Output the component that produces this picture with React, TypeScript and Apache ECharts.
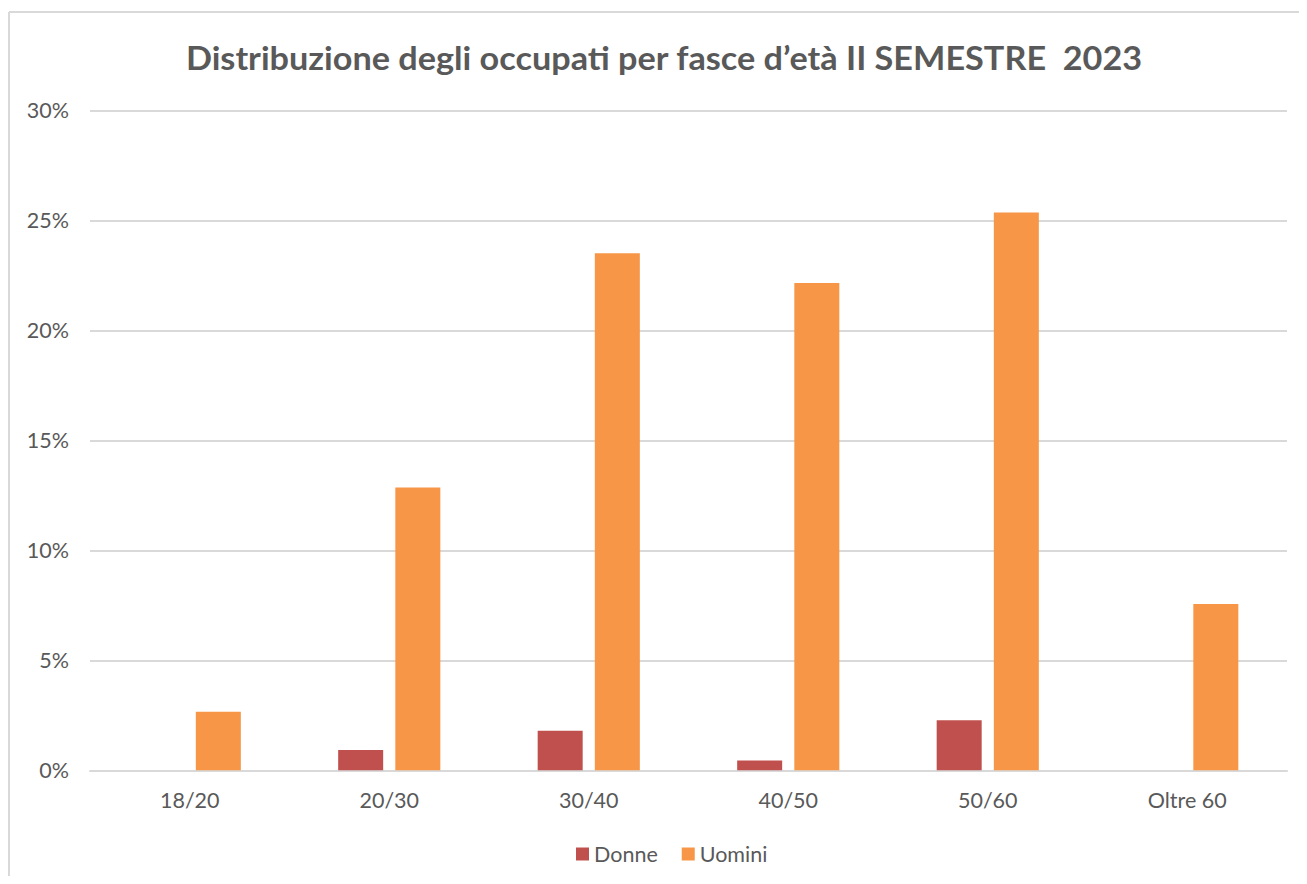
import React, { useEffect, useRef } from "react";
import * as echarts from "echarts";

const titleText = "Distribuzione degli occupati per fasce d’età II SEMESTRE  2023";
const categories = ["18/20", "20/30", "30/40", "40/50", "50/60", "Oltre 60"];
const donne = [0, 0.92, 1.8, 0.45, 2.27, 0];
const uomini = [2.66, 12.86, 23.5, 22.15, 25.35, 7.56];
const seriesNames = ["Donne", "Uomini"];
const yTicks = [0, 5, 10, 15, 20, 25, 30];

const FONT = "Lato, 'Open Sans', sans-serif";
const TXT = "#595959";

export default function App() {
  const ref = useRef<HTMLDivElement>(null);
  useEffect(() => {
    if (!ref.current) return;
    const chart = echarts.init(ref.current, undefined, { renderer: "svg" });
    chart.setOption({
      animation: false,
      textStyle: { fontFamily: FONT },
      graphic: [
        {
          type: "line",
          shape: { x1: 1, y1: 4, x2: 1291, y2: 4 },
          style: { stroke: "#d9d9d9", lineWidth: 2 },
        },
        {
          type: "line",
          shape: { x1: 1, y1: 4, x2: 1, y2: 868 },
          style: { stroke: "#d9d9d9", lineWidth: 2 },
        },
        {
          type: "text",
          x: 656,
          y: 49,
          scaleX: 1.07,
          style: {
            text: titleText,
            fontFamily: FONT,
            fontWeight: "bold",
            fontSize: 32,
            fill: TXT,
            textAlign: "center",
            textVerticalAlign: "middle",
          },
        },
      ],
      legend: {
        data: seriesNames,
        bottom: 6,
        left: 563,
        itemWidth: 13,
        itemHeight: 13,
        itemGap: 24,
        icon: "rect",
        textStyle: { color: TXT, fontSize: 21.5, fontFamily: FONT },
      },
      grid: { left: 82, right: 12, top: 102.3, bottom: 105.7, containLabel: false },
      xAxis: {
        type: "category",
        data: categories,
        axisLine: { lineStyle: { color: "#d9d9d9", width: 2 } },
        axisTick: { show: false },
        axisLabel: { color: TXT, fontSize: 21.5, margin: 19, fontFamily: FONT },
      },
      yAxis: {
        type: "value",
        min: yTicks[0],
        max: yTicks[yTicks.length - 1],
        interval: 5,
        axisLine: { show: false },
        axisTick: { show: false },
        splitLine: { lineStyle: { color: "#d9d9d9", width: 2 } },
        axisLabel: {
          color: TXT,
          fontSize: 21.5,
          margin: 21,
          fontFamily: FONT,
          formatter: (v: number) => v + "%",
        },
      },
      series: [
        {
          name: seriesNames[0],
          type: "bar",
          data: donne,
          barWidth: 45,
          barGap: "27%",
          itemStyle: { color: "#C0504D" },
        },
        {
          name: seriesNames[1],
          type: "bar",
          data: uomini,
          barWidth: 45,
          barGap: "27%",
          itemStyle: { color: "#F79646" },
        },
      ],
    });
    return () => chart.dispose();
  }, []);
  return <div ref={ref} style={{ width: 1291, height: 868 }} />;
}
